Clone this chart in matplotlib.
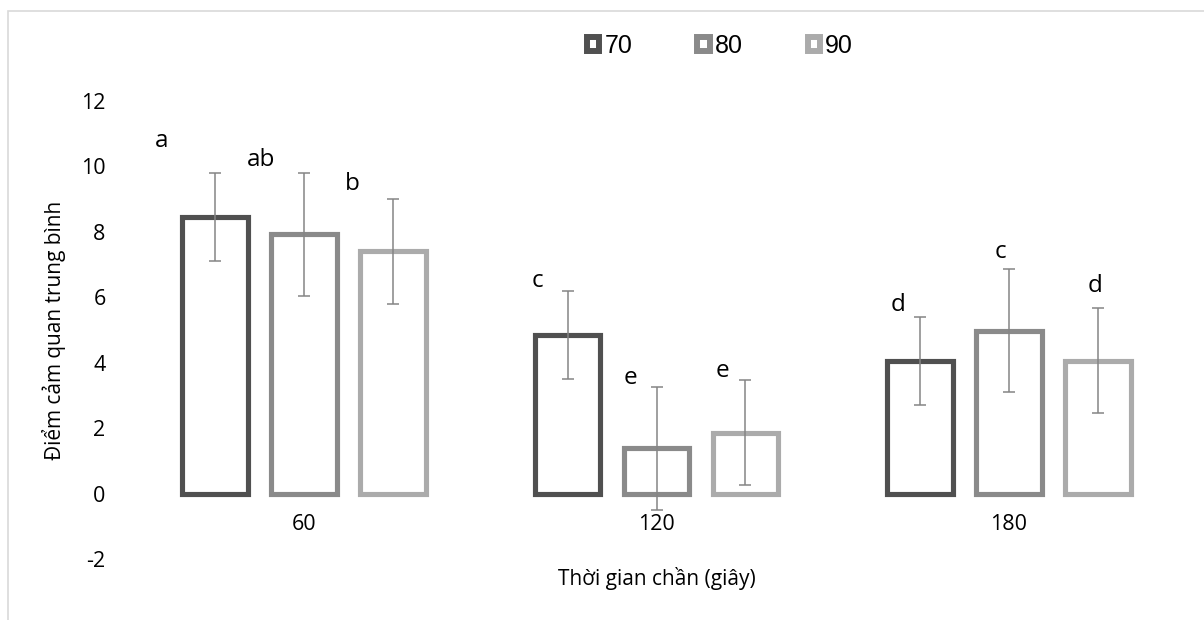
import matplotlib
matplotlib.use("Agg")
import matplotlib.pyplot as plt
from matplotlib.patches import Patch, Rectangle
import numpy as np

plt.rcParams['font.family'] = ['Open Sans', 'DejaVu Sans']

## data
groups = ['60', '120', '180']
series = ['70', '80', '90']
means = {
    '70': [8.45, 4.85, 4.05],
    '80': [7.93, 1.38, 4.98],
    '90': [7.40, 1.86, 4.06],
}
errors = {
    '70': [1.35, 1.35, 1.34],
    '80': [1.88, 1.88, 1.88],
    '90': [1.60, 1.60, 1.60],
}
letters = {
    '70': ['a', 'c', 'd'],
    '80': ['ab', 'e', 'c'],
    '90': ['b', 'e', 'd'],
}
# where the letters sit (data coords, baseline)
letter_x = {
    '70': [-0.403, 0.661, 1.685],
    '80': [-0.122, 0.925, 1.977],
    '90': [0.136, 1.188, 2.244],
}
letter_y = {
    '70': [10.6, 6.32, 5.57],
    '80': [10.0, 3.36, 7.21],
    '90': [9.28, 3.57, 6.17],
}
yticks = [-2, 0, 2, 4, 6, 8, 10, 12]

colors = {'70': '#505050', '80': '#8a8a8a', '90': '#ababab'}
err_color = '#858585'

fig = plt.figure(figsize=(12.04, 6.2), dpi=100)
ax = fig.add_axes([127.75 / 1204, 1 - 559 / 620, 1057.5 / 1204, 458 / 620])

x = np.arange(len(groups))
step = 0.252
width = 0.186

for i, s in enumerate(series):
    pos = x + (i - 1) * step
    ax.bar(pos, means[s], width, facecolor='white', edgecolor=colors[s],
           linewidth=3.7, zorder=2)
    ax.errorbar(pos, means[s], yerr=errors[s], fmt='none', ecolor=err_color,
                elinewidth=1.1, capsize=4.5, capthick=1.1, zorder=3)
    for lx, ly, t in zip(letter_x[s], letter_y[s], letters[s]):
        ax.text(lx, ly, t, ha='center', va='baseline', fontsize=17.5, color='black')

ax.set_xlim(-0.5, 2.5)
ax.set_ylim(-2, 12)
ax.set_yticks(yticks)
ax.set_yticklabels([str(v) for v in yticks])
ax.tick_params(axis='y', length=0, pad=16, labelsize=15.5)
ax.set_xticks([])
for xi, g in zip(x, groups):
    ax.annotate(g, (xi, 0), xytext=(0, -20), textcoords='offset pixels',
                ha='center', va='top', fontsize=15.5)
for sp in ax.spines.values():
    sp.set_visible(False)

ax.set_xlabel('Thời gian chần (giây)', fontsize=15, labelpad=6)
fig.text(54 / 1204, 1 - 330 / 620, 'Điểm cảm quan trung bình', rotation=90,
         ha='center', va='center', fontsize=15)

handles = [Patch(facecolor='white', edgecolor=colors[s], linewidth=4.3, label=s)
           for s in series]
fig.legend(handles=handles, loc='center', bbox_to_anchor=(720 / 1204, 1 - 46 / 620),
           ncol=3, frameon=False, handlelength=0.5, handleheight=0.5,
           handletextpad=0.2, columnspacing=2.6, borderpad=0.2,
           prop={'family': 'Liberation Sans', 'size': 18})

# light chart border (top and left visible)
fig.patches.append(Rectangle((8 / 1204, -0.5), 2, 0.5 + 1 - 11 / 620,
                             transform=fig.transFigure, fill=False,
                             edgecolor='#d9d9d9', linewidth=1.2))

fig.savefig('out.png', dpi=100)
